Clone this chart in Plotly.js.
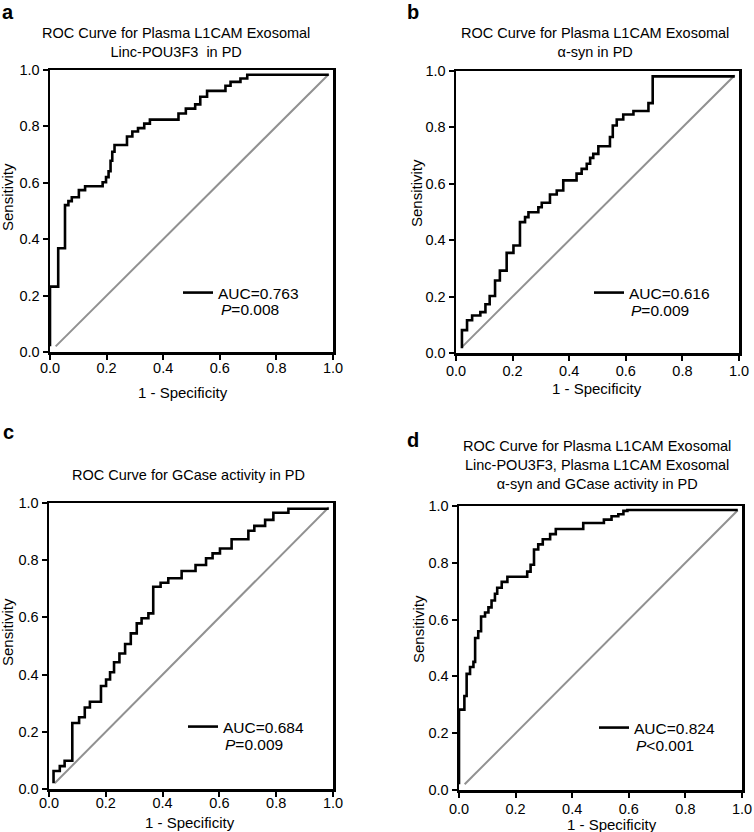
<!DOCTYPE html>
<html>
<head>
<meta charset="utf-8">
<script src="https://cdn.plot.ly/plotly-3.0.1.min.js"></script>
<style>
  body { margin: 0; background: #fff; }
  #fig { width: 754px; height: 832px; }
</style>
</head>
<body>
<div id="fig"></div>
<script>
// (1 - specificity, sensitivity)
let fprA = [0.0, 0.0, 0.029, 0.053, 0.065, 0.077, 0.102, 0.124, 0.186, 0.198, 0.207, 0.214, 0.220, 0.228, 0.272, 0.291, 0.311, 0.333, 0.353, 0.454, 0.480, 0.513, 0.531, 0.555, 0.620, 0.638, 0.673, 0.697, 0.985];
let tprA = [0.020, 0.232, 0.368, 0.521, 0.535, 0.549, 0.574, 0.588, 0.602, 0.620, 0.641, 0.678, 0.710, 0.734, 0.764, 0.782, 0.794, 0.810, 0.824, 0.846, 0.863, 0.878, 0.905, 0.926, 0.944, 0.958, 0.970, 0.983, 0.983];

let fprB = [0.021, 0.021, 0.039, 0.057, 0.086, 0.104, 0.119, 0.138, 0.155, 0.179, 0.203, 0.226, 0.244, 0.256, 0.291, 0.303, 0.332, 0.356, 0.379, 0.426, 0.444, 0.462, 0.474, 0.485, 0.503, 0.544, 0.554, 0.568, 0.591, 0.627, 0.680, 0.695, 0.985];
let tprB = [0.017, 0.081, 0.116, 0.133, 0.145, 0.173, 0.202, 0.257, 0.292, 0.355, 0.381, 0.464, 0.482, 0.499, 0.517, 0.533, 0.562, 0.576, 0.612, 0.636, 0.653, 0.671, 0.692, 0.706, 0.733, 0.766, 0.807, 0.828, 0.846, 0.858, 0.886, 0.981, 0.981];

let fprC = [0.016, 0.016, 0.038, 0.055, 0.082, 0.106, 0.126, 0.144, 0.183, 0.201, 0.215, 0.229, 0.248, 0.268, 0.288, 0.309, 0.326, 0.350, 0.367, 0.393, 0.420, 0.467, 0.516, 0.553, 0.576, 0.602, 0.643, 0.702, 0.723, 0.761, 0.790, 0.843, 0.985];
let tprC = [0.020, 0.063, 0.080, 0.099, 0.231, 0.251, 0.285, 0.305, 0.360, 0.383, 0.408, 0.443, 0.474, 0.507, 0.544, 0.579, 0.597, 0.614, 0.707, 0.721, 0.737, 0.762, 0.783, 0.807, 0.824, 0.841, 0.873, 0.903, 0.920, 0.941, 0.966, 0.980, 0.980];

let fprD = [0.0, 0.0, 0.019, 0.027, 0.039, 0.051, 0.057, 0.068, 0.078, 0.092, 0.104, 0.115, 0.127, 0.135, 0.151, 0.171, 0.241, 0.253, 0.265, 0.280, 0.296, 0.322, 0.342, 0.439, 0.512, 0.539, 0.563, 0.581, 0.595, 0.985];
let tprD = [0.020, 0.283, 0.331, 0.409, 0.433, 0.451, 0.535, 0.559, 0.611, 0.625, 0.643, 0.667, 0.691, 0.712, 0.733, 0.751, 0.769, 0.793, 0.847, 0.865, 0.883, 0.901, 0.919, 0.940, 0.952, 0.964, 0.971, 0.983, 0.986, 0.986];

// reference (chance) line
let refX = [0.02, 0.985];
let refY = [0.02, 0.985];

let aucLabels = ['AUC=0.763', 'AUC=0.616', 'AUC=0.684', 'AUC=0.824'];
let pLabels = ['<i>P</i>=0.008', '<i>P</i>=0.009', '<i>P</i>=0.009', '<i>P</i><0.001'];
let panelTitles = [
  'ROC Curve for Plasma L1CAM Exosomal<br>Linc-POU3F3  in PD',
  'ROC Curve for Plasma L1CAM Exosomal<br>α-syn in PD',
  'ROC Curve for GCase activity in PD',
  'ROC Curve for Plasma L1CAM Exosomal<br>Linc-POU3F3, Plasma L1CAM Exosomal<br>α-syn and GCase activity in PD'
];
let panelLetters = ['a', 'b', 'c', 'd'];

const W = 754, H = 832;
const FONT = 'Liberation Sans, Arial, Helvetica, sans-serif';
function px(x) { return x / W; }
function py(y) { return 1 - y / H; }

// plot boxes in pixels: left, right, top, bottom
let boxes = [
  [50, 333, 70, 352],
  [456, 739, 71, 353],
  [49, 333, 503, 789],
  [459, 742, 506, 790]
];
// how far x tick labels sit from their ticks
let xLabelShift = [-4, -2, -6, -1];

function makeAxis(dom, anchor) {
  return {
    domain: dom, anchor: anchor, range: [0, 1],
    showline: true, linecolor: 'black', linewidth: 2.5, mirror: true,
    ticks: 'outside', ticklen: 5, tickwidth: 2, tickcolor: 'black',
    dtick: 0.2, tick0: 0, tickformat: '.1f',
    showgrid: false, zeroline: false, fixedrange: true,
    tickfont: {family: FONT, size: 14.5, color: 'black'}
  };
}

let curves = [[fprA, tprA], [fprB, tprB], [fprC, tprC], [fprD, tprD]];
let data = [];
let layout = {
  width: W, height: H,
  margin: {l: 0, r: 0, t: 0, b: 0},
  paper_bgcolor: 'white', plot_bgcolor: 'white',
  font: {family: FONT, size: 14, color: 'black'},
  annotations: []
};

// legend spots (left px, top px), p-value spots, title centres, axis title spots
let legendPos = [[178, 276], [589, 276], [183, 710], [594, 711]];
let pPos = [[219, 309], [629, 310], [223, 744], [634, 745]];
let titlePos = [[176, 42], [595, 42], [188, 475], [597, 465]];
let letterPos = [[8, 11.5], [413, 12], [8, 432], [413, 440]];
let xTitlePos = [[183, 392], [597, 388], [190, 822], [612, 824]];
let yTitlePos = [[7, 197], [416, 193], [7, 632], [418, 629]];

for (let i = 0; i < 4; i++) {
  let n = i === 0 ? '' : String(i + 1);
  let b = boxes[i];
  layout['xaxis' + n] = makeAxis([px(b[0]), px(b[1])], 'y' + n);
  layout['xaxis' + n].ticklabelstandoff = xLabelShift[i];
  layout['yaxis' + n] = makeAxis([py(b[3]), py(b[2])], 'x' + n);

  data.push({
    x: refX, y: refY, mode: 'lines', type: 'scatter',
    line: {color: 'rgb(145,145,145)', width: 2},
    xaxis: 'x' + n, yaxis: 'y' + n, showlegend: false, hoverinfo: 'skip'
  });
  data.push({
    x: curves[i][0], y: curves[i][1], mode: 'lines', type: 'scatter',
    line: {color: 'black', width: 2.6, shape: 'hv'},
    xaxis: 'x' + n, yaxis: 'y' + n,
    name: aucLabels[i], legend: 'legend' + n, showlegend: true
  });

  layout['legend' + n] = {
    x: px(legendPos[i][0]), y: py(legendPos[i][1]),
    xanchor: 'left', yanchor: 'top',
    bgcolor: 'rgba(0,0,0,0)', borderwidth: 0,
    font: {family: FONT, size: 15.5, color: 'black'}
  };

  layout.annotations.push({
    text: pLabels[i], xref: 'paper', yref: 'paper',
    x: px(pPos[i][0]), y: py(pPos[i][1]),
    xanchor: 'left', yanchor: 'middle', showarrow: false,
    font: {family: FONT, size: 15.5, color: 'black'}
  });
  layout.annotations.push({
    text: panelTitles[i], xref: 'paper', yref: 'paper',
    x: px(titlePos[i][0]), y: py(titlePos[i][1]),
    xanchor: 'center', yanchor: 'middle', showarrow: false, align: 'center',
    font: {family: FONT, size: 14.5, color: 'black'}
  });
  layout.annotations.push({
    text: '<b>' + panelLetters[i] + '</b>', xref: 'paper', yref: 'paper',
    x: px(letterPos[i][0]), y: py(letterPos[i][1]),
    xanchor: 'center', yanchor: 'middle', showarrow: false,
    font: {family: FONT, size: 20, color: 'black'}
  });
  layout.annotations.push({
    text: '1 - Specificity', xref: 'paper', yref: 'paper',
    x: px(xTitlePos[i][0]), y: py(xTitlePos[i][1]),
    xanchor: 'center', yanchor: 'middle', showarrow: false,
    font: {family: FONT, size: 15, color: 'black'}
  });
  layout.annotations.push({
    text: 'Sensitivity', xref: 'paper', yref: 'paper', textangle: -90,
    x: px(yTitlePos[i][0]), y: py(yTitlePos[i][1]),
    xanchor: 'center', yanchor: 'middle', showarrow: false,
    font: {family: FONT, size: 15, color: 'black'}
  });
}

Plotly.newPlot('fig', data, layout, {displayModeBar: false, staticPlot: true});
</script>
</body>
</html>
